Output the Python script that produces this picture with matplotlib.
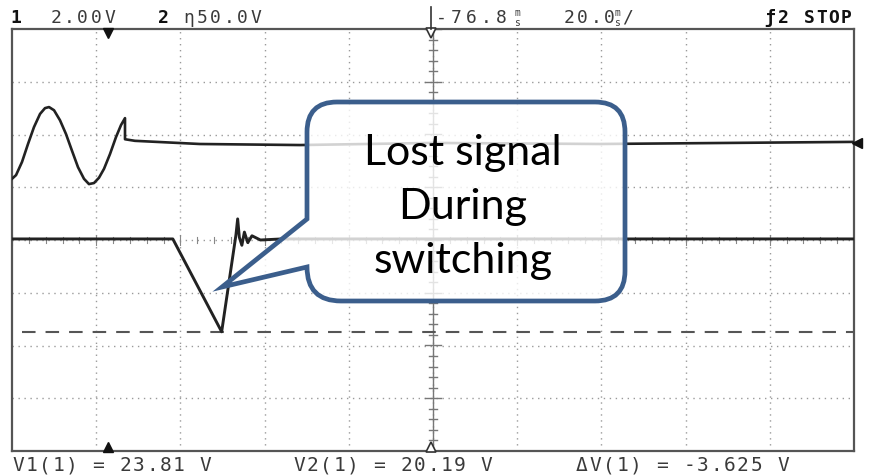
import numpy as np
import matplotlib
matplotlib.use("Agg")
import matplotlib.pyplot as plt
from matplotlib.path import Path
from matplotlib.patches import PathPatch
import matplotlib.transforms as mtransforms

W, H = 869, 477

# traces, in divisions (x: 0..10, y: -4..4)
ch1_x = [0.0, 0.048, 0.119, 0.190, 0.261, 0.333, 0.392, 0.440, 0.499, 0.570,
         0.641, 0.713, 0.784, 0.855, 0.914, 0.974, 1.033, 1.093, 1.164, 1.235,
         1.295, 1.342, 1.342, 1.46, 2.23, 3.42, 5.0, 6.98, 10.0]
ch1_y = [1.16, 1.23, 1.48, 1.82, 2.14, 2.39, 2.50, 2.52, 2.46, 2.27,
         2.01, 1.69, 1.38, 1.16, 1.06, 1.08, 1.18, 1.35, 1.63, 1.95,
         2.18, 2.31, 1.91, 1.88, 1.82, 1.80, 1.84, 1.82, 1.86]

ch2_x = [0.0, 1.91, 2.49, 2.60, 2.66, 2.68, 2.70, 2.73, 2.76, 2.80, 2.85, 2.95, 3.2, 10.0]
ch2_y = [0.02, 0.02, -1.74, -0.55, 0.10, 0.40, 0.05, -0.10, 0.15, -0.05, 0.08, 0.0, 0.02, 0.02]

cursor_y = -1.74
cursor_x0 = 0.12

top_labels = ["2.00V", "\u03b750.0V"]
bottom_labels = ["V1(1) = 23.81 V", "V2(1) = 20.19 V", "\u0394V(1) = -3.625 V"]
callout_text = "Lost signal\nDuring\nswitching"

fig = plt.figure(figsize=(W / 100, H / 100), dpi=100)
ax = fig.add_axes([12 / W, (H - 452) / H, 842 / W, 422 / H])
ax.set_xlim(0, 10)
ax.set_ylim(-4, 4)
ax.set_xticks([])
ax.set_yticks([])
for s in ax.spines.values():
    s.set_color("#555555")
    s.set_linewidth(1.6)

grid_kw = dict(color="#9a9a9a", lw=1.0, dashes=(1, 3.3), zorder=1)
for gx in range(1, 10):
    ax.axvline(gx, **grid_kw)
for gy in range(-3, 4):
    ax.axhline(gy, **grid_kw)

# center axes with minor ticks
ax.axvline(5, color="#777777", lw=1.0, zorder=1)
for ty in np.arange(-4, 4.01, 0.2):
    half = 0.1 if abs(ty - round(ty)) < 1e-6 else 0.05
    ax.plot([5 - half, 5 + half], [ty, ty], color="#777777", lw=1.0, zorder=1)
for tx in np.arange(0, 10.01, 0.2):
    half = 0.1 if abs(tx - round(tx)) < 1e-6 else 0.06
    ax.plot([tx, tx], [-half, half], color="#888888", lw=0.8, zorder=1)

# traces
ax.plot(ch1_x, ch1_y, color="#222222", lw=1.9, zorder=3)
ax.plot(ch2_x, ch2_y, color="#222222", lw=2.1, zorder=3)
ax.plot([cursor_x0, 10], [cursor_y, cursor_y], color="#555555", lw=1.5,
        dashes=(6.5, 4.8), zorder=2)

# screen markers
mk = dict(clip_on=False, zorder=4, markersize=7.5)
ax.plot(1.14, 3.93, marker="v", color="#111111", **mk)
ax.plot(1.14, -3.93, marker="^", color="#111111", **mk)
ax.plot(4.98, 3.93, marker="v", mfc="white", mec="#333333", mew=1.2, **mk)
ax.plot(4.98, -3.93, marker="^", mfc="white", mec="#333333", mew=1.2, **mk)
ax.plot(10.04, 1.83, marker="<", color="#111111", **mk)


# header / footer text, placed one character at a time on a fixed pitch
def mono(x, y, s, pitch=13.4, **kw):
    for i, ch in enumerate(s):
        fig.text((x + i * pitch) / W, 1 - y / H, ch, va="center", ha="center",
                 family="DejaVu Sans Mono", **kw)


hdr = dict(fontsize=13, color="#3a3a3a")
mono(16, 18, "1", fontsize=13, color="#111111", weight="bold")
mono(56, 18, top_labels[0], **hdr)
mono(163, 18, "2", fontsize=13, color="#111111", weight="bold")
mono(189, 18, top_labels[1], **hdr)
mono(441, 18, "-76.8", pitch=15, **hdr)
mono(517, 13, "m", fontsize=7, color="#3a3a3a")
mono(517, 23, "s", fontsize=7, color="#3a3a3a")
mono(569, 18, "20.0", **hdr)
mono(617, 13, "m", fontsize=7, color="#3a3a3a")
mono(617, 23, "s", fontsize=7, color="#3a3a3a")
mono(628, 18, "/", **hdr)
mono(770, 18, "\u01922", pitch=13, fontsize=13, color="#111111", weight="bold")
mono(809, 18, "STOP", pitch=12.5, fontsize=13, color="#111111", weight="bold")
fig.add_artist(plt.Line2D([431 / W, 431 / W], [1 - 8 / H, 1 - 30 / H],
                          color="#333333", lw=1.2))

ftr = dict(fontsize=14, color="#3a3a3a")
mono(18, 466, bottom_labels[0], **ftr)
mono(299, 466, bottom_labels[1], **ftr)
mono(582, 466, bottom_labels[2], **ftr)

# callout bubble in pixel coordinates (y measured from top)
px = mtransforms.Affine2D().scale(1 / W, -1 / H).translate(0, 1) + fig.transFigure
L, R, T, B = 307, 625, 103, 302
r = 30
verts = [
    (L + r, T), (R - r, T), (R, T), (R, T + r), (R, B - r), (R, B), (R - r, B),
    (L + 34, B), (L, B), (L, B - 34), (222, 288), (L, 220), (L, T + r), (L, T),
    (L + r, T), (L + r, T),
]
codes = [Path.MOVETO, Path.LINETO, Path.CURVE3, Path.CURVE3, Path.LINETO,
         Path.CURVE3, Path.CURVE3, Path.LINETO, Path.CURVE3, Path.CURVE3,
         Path.LINETO, Path.LINETO, Path.LINETO, Path.CURVE3, Path.CURVE3,
         Path.CLOSEPOLY]
bubble = PathPatch(Path(verts, codes), transform=px, facecolor=(1, 1, 1, 0.8),
                   edgecolor="#3b5e8c", lw=3.4, joinstyle="miter", zorder=10)
fig.add_artist(bubble)
fig.text(463 / W, 1 - 207 / H, callout_text, ha="center", va="center",
         family="Lato", fontsize=31, color="black", linespacing=1.52, zorder=11)

fig.savefig("out.png", dpi=100)
